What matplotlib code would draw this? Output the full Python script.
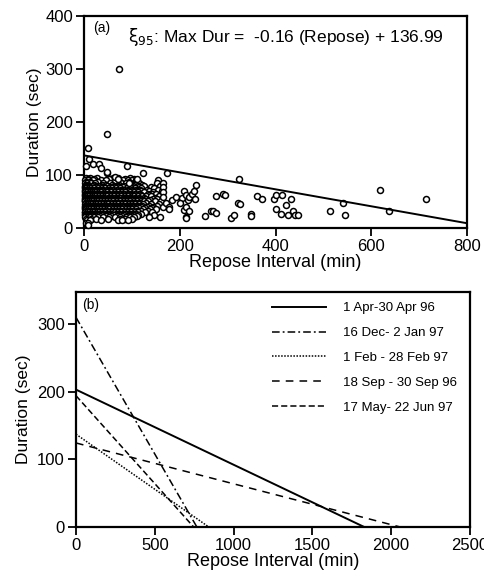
"""
Eruption duration vs. repose interval: scatter with 95% bound (a) and
per-period bounding lines (b).
"""

import matplotlib
matplotlib.use('Agg')
import matplotlib.pyplot as plt

plt.rcParams['font.family'] = ['Liberation Sans', 'DejaVu Sans']
plt.rcParams['mathtext.fontset'] = 'dejavusans'

# ---- panel (a) data -------------------------------------------------------
# dense cluster near the origin, read row by row (duration sec : repose min)
cluster_durations = [95, 92, 90, 87, 85, 82, 80, 77, 75, 72, 70, 67, 65, 62, 60, 57, 55,
                     52, 50, 47, 45, 42, 40, 37, 35, 32, 30, 27, 25, 22, 20, 17, 15, 10, 5]
cluster_repose = [
    [5, 12, 28, 60, 72, 95],
    [8, 21, 52, 86, 104],
    [3, 9, 18, 35, 45, 68, 82, 92, 100, 108, 155],
    [5, 12, 30, 62, 75, 94, 111],
    [2, 7, 14, 22, 40, 55, 78, 88, 97, 115, 152],
    [4, 9, 20, 37, 46, 59, 73, 92, 107, 121],
    [1, 6, 11, 17, 26, 33, 48, 63, 70, 84, 102, 112, 125, 158],
    [3, 8, 13, 24, 35, 41, 55, 62, 71, 82, 95, 101, 114, 140],
    [2, 5, 10, 15, 21, 30, 38, 44, 52, 58, 66, 76, 90, 98, 106, 118, 146],
    [3, 7, 11, 17, 22, 27, 33, 40, 47, 54, 61, 69, 77, 84, 91, 100, 108, 116, 131, 155],
    [1, 4, 8, 13, 19, 24, 29, 36, 42, 50, 57, 64, 73, 80, 87, 94, 103, 110, 120, 136, 162],
    [3, 7, 12, 16, 21, 25, 31, 36, 43, 49, 56, 65, 71, 79, 86, 95, 104, 112, 126, 145],
    [2, 6, 9, 14, 18, 23, 27, 33, 39, 46, 53, 61, 68, 75, 83, 91, 99, 107, 114, 133, 141, 150],
    [3, 8, 12, 16, 20, 25, 30, 35, 41, 47, 52, 58, 65, 72, 80, 88, 96, 103, 111, 118, 136],
    [1, 4, 7, 11, 16, 21, 26, 31, 37, 44, 49, 56, 62, 70, 78, 85, 92, 100, 105, 113, 122, 130, 139, 157],
    [3, 6, 10, 15, 19, 24, 30, 36, 42, 50, 57, 63, 69, 76, 83, 90, 98, 106, 115, 125, 149],
    [2, 5, 9, 13, 17, 22, 28, 34, 40, 47, 54, 59, 66, 72, 81, 88, 95, 102, 109, 117, 128, 144, 153],
    [3, 6, 11, 14, 20, 26, 32, 38, 45, 52, 58, 63, 71, 79, 86, 94, 100, 108, 115, 123, 138],
    [1, 3, 7, 10, 15, 19, 25, 30, 36, 42, 48, 55, 61, 69, 76, 83, 90, 97, 104, 111, 119, 126, 134, 148, 160],
    [4, 8, 12, 16, 21, 27, 34, 40, 46, 53, 60, 67, 74, 81, 88, 95, 102, 109, 117, 130],
    [2, 6, 8, 12, 17, 23, 28, 33, 39, 45, 51, 58, 64, 71, 79, 86, 93, 100, 107, 115, 123, 140, 156],
    [3, 6, 10, 15, 19, 24, 30, 36, 42, 48, 55, 62, 69, 77, 84, 91, 98, 105, 113, 121, 135, 152],
    [1, 4, 7, 11, 14, 20, 26, 31, 37, 43, 50, 57, 63, 68, 74, 82, 89, 96, 103, 110, 118, 131, 145, 165],
    [3, 8, 12, 16, 22, 28, 33, 39, 45, 51, 58, 64, 71, 78, 85, 92, 99, 106, 115, 128, 141],
    [2, 5, 9, 13, 18, 24, 29, 35, 41, 47, 53, 60, 66, 73, 80, 87, 94, 101, 108, 124, 137, 150],
    [4, 7, 10, 15, 20, 26, 31, 37, 43, 49, 56, 62, 69, 75, 82, 90, 96, 103, 110, 120, 133],
    [1, 3, 7, 11, 16, 21, 27, 32, 38, 44, 52, 58, 65, 72, 78, 85, 92, 98, 106, 113, 128, 142],
    [3, 8, 12, 17, 22, 28, 34, 41, 49, 57, 66, 74, 81, 88, 95, 102, 108, 118],
    [2, 5, 9, 14, 19, 25, 31, 38, 46, 54, 62, 70, 77, 84, 91, 99, 104, 112, 147],
    [4, 10, 16, 23, 33, 45, 57, 68, 80, 92, 101, 110],
    [3, 8, 13, 20, 29, 40, 52, 64, 76, 88, 97, 105, 135, 158],
    [5, 15, 26, 50, 75, 86, 100],
    [6, 12, 35, 70, 80, 92],
    [4, 9],
    [8],
]

# scattered events away from the cluster
sparse_repose = [8, 11, 4, 19, 31, 35, 49, 49, 65, 72, 89, 93, 110, 124, 174, 48, 73,
                 164, 164, 164, 164, 171, 178, 178, 183, 193, 204, 200, 209, 214, 218,
                 220, 225, 229, 233, 232, 209, 214, 220, 213, 213, 253, 266, 270, 276,
                 276, 290, 294, 307, 314, 322, 325, 324, 348, 348, 362, 371, 397, 402,
                 402, 412, 413, 421, 427, 432, 437, 441, 448, 513, 541, 545, 618, 637, 714]
sparse_duration = [151, 131, 117, 120, 120, 113, 104, 106, 96, 92, 117, 85, 92, 103, 103, 178, 300,
                   84, 77, 68, 59, 48, 40, 35, 53, 58, 56, 47, 69, 62, 52,
                   58, 65, 69, 82, 55, 34, 40, 33, 21, 18, 23, 33, 33, 29,
                   60, 65, 62, 18, 25, 48, 45, 92, 26, 22, 60, 54, 54, 62,
                   36, 26, 62, 43, 25, 54, 32, 25, 25, 32, 47, 25, 71, 32, 54]

fit_slope = -0.16
fit_intercept = 136.99

# ---- panel (b) data -------------------------------------------------------
period_labels = ['1 Apr-30 Apr 96', '16 Dec- 2 Jan 97', '1 Feb - 28 Feb 97',
                 '18 Sep - 30 Sep 96', '17 May- 22 Jun 97']
period_y0 = [203, 310, 137, 124, 194]          # duration at zero repose (sec)
period_x0 = [1825, 766, 840, 2050, 745]        # repose where duration hits 0 (min)
period_styles = ['-', (0, (5, 2, 1.2, 2)), (0, (1, 1)), (0, (5, 4)), (0, (4, 2))]
period_widths = [1.4, 1.1, 1.1, 1.1, 1.1]


def style_axes(ax):
    for side in ax.spines.values():
        side.set_linewidth(1.6)
    ax.tick_params(direction='out', length=6, width=1.3, labelsize=12, pad=2)


fig = plt.figure(figsize=(4.84, 5.8), dpi=100)

# panel (a)
ax_a = fig.add_axes([0.1736, 0.6069, 0.7913, 0.3655])
xs, ys = [], []
for dur, row in zip(cluster_durations, cluster_repose):
    xs.extend(row)
    ys.extend([dur] * len(row))
xs.extend(sparse_repose)
ys.extend(sparse_duration)
ax_a.plot(xs, ys, linestyle='none', marker='o', ms=4.3, mfc='white',
          mec='black', mew=1.1, clip_on=False, zorder=3)
ax_a.plot([0, 800], [fit_intercept, fit_intercept + fit_slope * 800],
          color='black', lw=1.4, zorder=4)
ax_a.set_xlim(0, 800)
ax_a.set_ylim(0, 400)
ax_a.set_xticks([0, 200, 400, 600, 800])
ax_a.set_yticks([0, 100, 200, 300, 400])
ax_a.set_xlabel('Repose Interval (min)', fontsize=13, labelpad=0)
ax_a.set_ylabel('Duration (sec)', fontsize=12.5, labelpad=2)
ax_a.text(0.025, 0.975, '(a)', transform=ax_a.transAxes, fontsize=10, va='top')
ax_a.text(0.115, 0.955, r'$\mathrm{\xi}_{95}$: Max Dur =  -0.16 (Repose) + 136.99',
          transform=ax_a.transAxes, fontsize=12.5, va='top')
style_axes(ax_a)

# panel (b)
ax_b = fig.add_axes([0.157, 0.0919, 0.814, 0.4052])
for y0, x0, ls, lw, lab in zip(period_y0, period_x0, period_styles,
                               period_widths, period_labels):
    ax_b.plot([0, x0], [y0, 0], color='black', linestyle=ls, lw=lw, label=lab)
ax_b.set_xlim(0, 2500)
ax_b.set_ylim(0, 348)
ax_b.set_xticks([0, 500, 1000, 1500, 2000, 2500])
ax_b.set_yticks([0, 100, 200, 300])
ax_b.set_xlabel('Repose Interval (min)', fontsize=13, labelpad=0)
ax_b.set_ylabel('Duration (sec)', fontsize=12.5, labelpad=4)
ax_b.text(0.015, 0.975, '(b)', transform=ax_b.transAxes, fontsize=10, va='top')
ax_b.legend(loc='upper left', bbox_to_anchor=(0.497, 0.955), frameon=False,
            fontsize=9.5, handlelength=4.1, handletextpad=1.3, labelspacing=0.95,
            borderpad=0, borderaxespad=0)
style_axes(ax_b)

fig.savefig('out.png', dpi=100)
